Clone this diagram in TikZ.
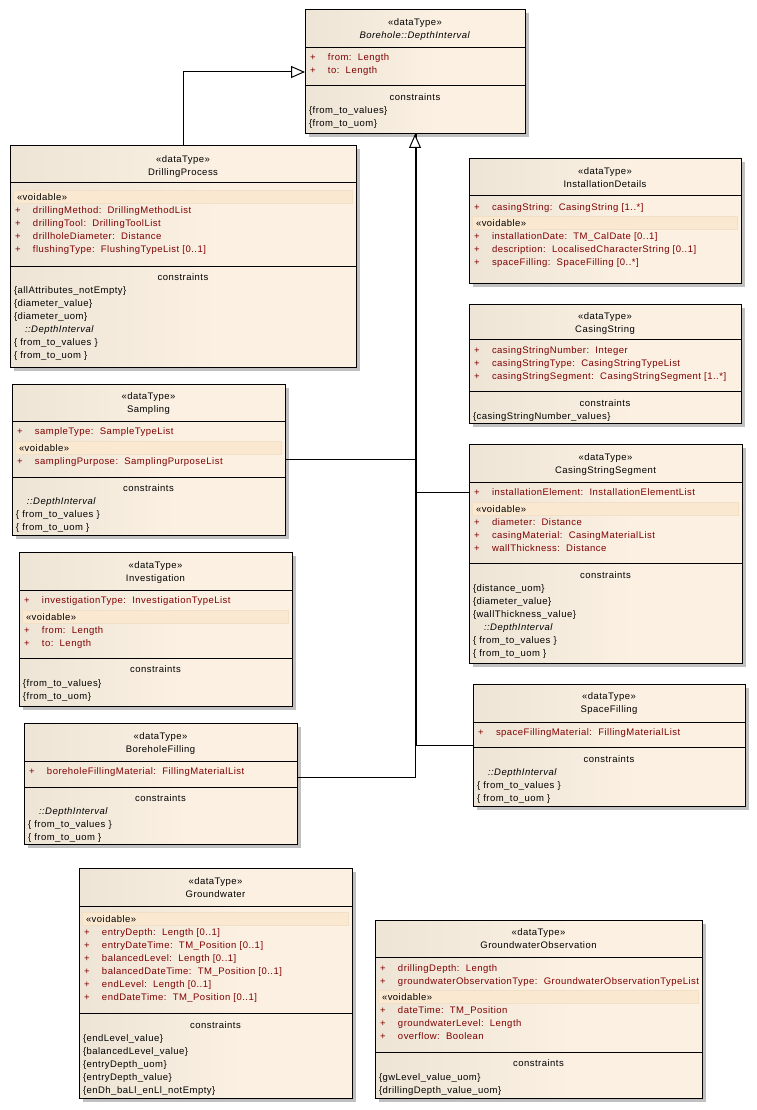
\documentclass[tikz,border=0pt]{standalone}
\usepackage{fontspec}
\setmainfont{Liberation Sans}[LetterSpace=5]
\usetikzlibrary{arrows.meta}
\definecolor{boxL}{RGB}{226,219,206}
\definecolor{boxR}{RGB}{251,240,225}
\definecolor{bandc}{RGB}{250,232,208}
\definecolor{bandd}{RGB}{242,224,198}
\definecolor{shadowc}{RGB}{192,192,192}
\definecolor{attrc}{RGB}{128,0,0}
\pgfdeclarehorizontalshading{eabox}{100bp}{color(0bp)=(boxL); color(55bp)=(boxR); color(100bp)=(boxR)}
\newcommand\fs{\fontsize{9.5}{13}\selectfont}
\newcommand\st{\rule{0pt}{9pt}}
\newcommand\pl{\makebox[18pt][l]{+}}
\newcommand\vd{\textcolor{black}{\hspace*{2pt}«voidable»}}
\tikzset{
 umlbox/.style={draw=black, line width=1pt, shade, shading=eabox, anchor=north west, inner sep=0pt, outer sep=0pt},
 hdr/.style={font=\fs, align=center, anchor=north, inner sep=0pt, outer sep=0pt},
 txt/.style={font=\fs, align=left, anchor=north west, inner sep=0pt, outer sep=0pt},
 atx/.style={txt, text=attrc},
 ctitle/.style={font=\fs, anchor=base, inner sep=0pt},
 sepl/.style={line width=1pt},
 gen/.style={line width=1pt},
 genarrow/.style={gen, -{Triangle[length=14pt,width=12pt,fill=white]}},
}
\newcommand\ubox[5]{%
  \fill[shadowc] (#2+3.5,#3+3.5) rectangle (#4+3.5,#5+3.5);
  \node[umlbox, minimum width=#4-#2, minimum height=#5-#3] (#1) at (#2,#3) {};}
\newcommand\uhdr[5]{\node[hdr] (#1-h) at ({(#2+#3)/2},#4-5.5) {\st«dataType»\\#5};}
\newcommand\hsep[3]{\draw[sepl] (#1,#3) -- (#2,#3);}
\newcommand\vband[3]{\filldraw[fill=bandc, draw=bandd, line width=0.6pt] (#1+3.5,#3-6.5) rectangle (#2-3.5,#3+6.5);}
\begin{document}
\begin{tikzpicture}[x=1pt,y=-1pt]
\useasboundingbox (0,0) rectangle (756,1110);
\fill[white] (0,0) rectangle (756,1110);

% Borehole::DepthInterval
\ubox{di}{305}{10}{525}{134}
\uhdr{di}{305}{525}{22}{\textit{Borehole::DepthInterval}}
\hsep{305}{525}{48}
\node[atx] (di-a) at (310,57.5-5.5) {\st\pl from:\ \ Length\\\pl to:\ \ Length};
\hsep{305}{525}{86}
\node[ctitle] (di-ct) at (415,97.5+3.5) {constraints};
\node[txt] (di-c) at (309,110.5-5.5) {\st\{from\_to\_values\}\\\{from\_to\_uom\}};

% DrillingProcess
\ubox{dp}{10}{146}{356}{367}
\uhdr{dp}{10}{356}{159}{DrillingProcess}
\hsep{10}{356}{183}
\vband{10}{356}{197}
\node[atx] (dp-a) at (15,197-5.5) {\st\vd\\\pl drillingMethod:\ \ DrillingMethodList\\\pl drillingTool:\ \ DrillingToolList\\\pl drillholeDiameter:\ \ Distance\\\pl flushingType:\ \ FlushingTypeList [0..1]};
\hsep{10}{356}{266}
\node[ctitle] (dp-ct) at (183,277+3.5) {constraints};
\node[txt] (dp-c) at (14,290-5.5) {\st\{allAttributes\_notEmpty\}\\\{diameter\_value\}\\\{diameter\_uom\}\\\hspace*{11pt}\textit{::DepthInterval}\\\{ from\_to\_values \}\\\{ from\_to\_uom \}};

% InstallationDetails
\ubox{id}{469}{159}{741}{283}
\uhdr{id}{469}{741}{171}{InstallationDetails}
\hsep{469}{741}{195}
\node[atx] (id-a) at (474,207-5.5) {\st\pl casingString:\ \ CasingString [1..*]};
\vband{469}{741}{223}
\node[atx] (id-v) at (474,223-5.5) {\st\vd\\\pl installationDate:\ \ TM\_CalDate [0..1]\\\pl description:\ \ LocalisedCharacterString [0..1]\\\pl spaceFilling:\ \ SpaceFilling [0..*]};

% CasingString
\ubox{cs}{469}{304}{741}{423}
\uhdr{cs}{469}{741}{316}{CasingString}
\hsep{469}{741}{339}
\node[atx] (cs-a) at (474,350-5.5) {\st\pl casingStringNumber:\ \ Integer\\\pl casingStringType:\ \ CasingStringTypeList\\\pl casingStringSegment:\ \ CasingStringSegment [1..*]};
\hsep{469}{741}{391}
\node[ctitle] (cs-ct) at (605,403+3.5) {constraints};
\node[txt] (cs-c) at (473,416-5.5) {\st\{casingStringNumber\_values\}};

% Sampling
\ubox{sam}{12}{384}{285}{535}
\uhdr{sam}{12}{285}{396}{Sampling}
\hsep{12}{285}{421}
\node[atx] (sam-a) at (17,431-5.5) {\st\pl sampleType:\ \ SampleTypeList};
\vband{12}{285}{448}
\node[atx] (sam-v) at (17,448-5.5) {\st\vd\\\pl samplingPurpose:\ \ SamplingPurposeList};
\hsep{12}{285}{477}
\node[ctitle] (sam-ct) at (148.5,488+3.5) {constraints};
\node[txt] (sam-c) at (16,501-5.5) {\st\hspace*{11pt}\textit{::DepthInterval}\\\{ from\_to\_values \}\\\{ from\_to\_uom \}};

% CasingStringSegment
\ubox{css}{469}{444}{742}{663}
\uhdr{css}{469}{742}{457}{CasingStringSegment}
\hsep{469}{742}{482}
\node[atx] (css-a) at (474,492-5.5) {\st\pl installationElement:\ \ InstallationElementList};
\vband{469}{742}{509}
\node[atx] (css-v) at (474,509-5.5) {\st\vd\\\pl diameter:\ \ Distance\\\pl casingMaterial:\ \ CasingMaterialList\\\pl wallThickness:\ \ Distance};
\hsep{469}{742}{563}
\node[ctitle] (css-ct) at (605.5,575+3.5) {constraints};
\node[txt] (css-c) at (473,588-5.5) {\st\{distance\_uom\}\\\{diameter\_value\}\\\{wallThickness\_value\}\\\hspace*{11pt}\textit{::DepthInterval}\\\{ from\_to\_values \}\\\{ from\_to\_uom \}};

% Investigation
\ubox{inv}{19}{552}{292}{706}
\uhdr{inv}{19}{292}{565}{Investigation}
\hsep{19}{292}{590}
\node[atx] (inv-a) at (24,600-5.5) {\st\pl investigationType:\ \ InvestigationTypeList};
\vband{19}{292}{617}
\node[atx] (inv-v) at (24,617-5.5) {\st\vd\\\pl from:\ \ Length\\\pl to:\ \ Length};
\hsep{19}{292}{658}
\node[ctitle] (inv-ct) at (155.5,669+3.5) {constraints};
\node[txt] (inv-c) at (23,683-5.5) {\st\{from\_to\_values\}\\\{from\_to\_uom\}};

% SpaceFilling
\ubox{sf}{473}{684}{745}{806}
\uhdr{sf}{473}{745}{696}{SpaceFilling}
\hsep{473}{745}{722}
\node[atx] (sf-a) at (478,732-5.5) {\st\pl spaceFillingMaterial:\ \ FillingMaterialList};
\hsep{473}{745}{747}
\node[ctitle] (sf-ct) at (609,759+3.5) {constraints};
\node[txt] (sf-c) at (477,772-5.5) {\st\hspace*{11pt}\textit{::DepthInterval}\\\{ from\_to\_values \}\\\{ from\_to\_uom \}};

% BoreholeFilling
\ubox{bf}{24}{723}{297}{844}
\uhdr{bf}{24}{297}{736}{BoreholeFilling}
\hsep{24}{297}{761}
\node[atx] (bf-a) at (29,771-5.5) {\st\pl boreholeFillingMaterial:\ \ FillingMaterialList};
\hsep{24}{297}{787}
\node[ctitle] (bf-ct) at (160.5,798+3.5) {constraints};
\node[txt] (bf-c) at (28,811-5.5) {\st\hspace*{11pt}\textit{::DepthInterval}\\\{ from\_to\_values \}\\\{ from\_to\_uom \}};

% Groundwater
\ubox{gw}{79}{868}{352}{1098}
\uhdr{gw}{79}{352}{881}{Groundwater}
\hsep{79}{352}{906}
\vband{79}{352}{919}
\node[atx] (gw-v) at (84,919-5.5) {\st\vd\\\pl entryDepth:\ \ Length [0..1]\\\pl entryDateTime:\ \ TM\_Position [0..1]\\\pl balancedLevel:\ \ Length [0..1]\\\pl balancedDateTime:\ \ TM\_Position [0..1]\\\pl endLevel:\ \ Length [0..1]\\\pl endDateTime:\ \ TM\_Position [0..1]};
\hsep{79}{352}{1013}
\node[ctitle] (gw-ct) at (215.5,1025+3.5) {constraints};
\node[txt] (gw-c) at (83,1038-5.5) {\st\{endLevel\_value\}\\\{balancedLevel\_value\}\\\{entryDepth\_uom\}\\\{entryDepth\_value\}\\\{enDh\_baLl\_enLl\_notEmpty\}};

% GroundwaterObservation
\ubox{gwo}{375}{920}{702}{1098}
\uhdr{gwo}{375}{702}{932}{GroundwaterObservation}
\hsep{375}{702}{957}
\node[atx] (gwo-a) at (380,968-5.5) {\st\pl drillingDepth:\ \ Length\\\pl groundwaterObservationType:\ \ GroundwaterObservationTypeList};
\vband{375}{702}{997}
\node[atx] (gwo-v) at (380,997-5.5) {\st\vd\\\pl dateTime:\ \ TM\_Position\\\pl groundwaterLevel:\ \ Length\\\pl overflow:\ \ Boolean};
\hsep{375}{702}{1052}
\node[ctitle] (gwo-ct) at (538.5,1063+3.5) {constraints};
\node[txt] (gwo-c) at (379,1077-5.5) {\st\{gwLevel\_value\_uom\}\\\{drillingDepth\_value\_uom\}};

% generalisations
\coordinate (jcss) at (0,492);
\coordinate (jbf) at (0,777);
\draw[gen] (css.west |- jcss) -| ([xshift=1.5pt]di.south);
\draw[gen] (sf.west) -| ([xshift=1.5pt]di.south);
\draw[gen] (bf.east |- jbf) -| (di.south);
\draw[genarrow] (sam.east) -| (di.south);
\draw[genarrow] (dp.north) |- (di.west);
\end{tikzpicture}
\end{document}
